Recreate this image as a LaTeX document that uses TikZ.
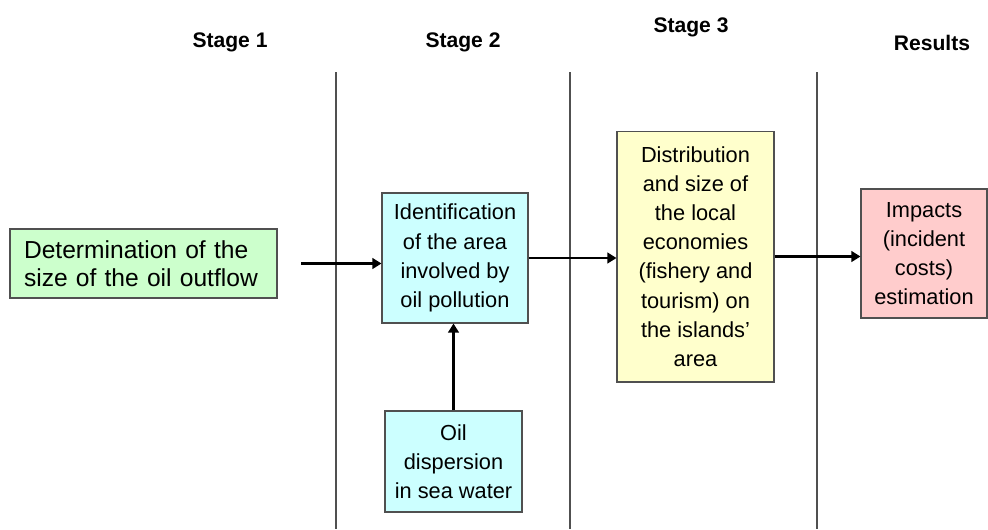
\documentclass[tikz,border=0pt]{standalone}
\usepackage{fontspec}
\setmainfont{Liberation Sans}
\usepackage{xcolor}
\usepackage{tikz}
\usetikzlibrary{positioning,calc,arrows.meta}
\definecolor{sizebg}{RGB}{204,255,204}
\definecolor{areabg}{RGB}{204,255,255}
\definecolor{economybg}{RGB}{255,255,204}
\definecolor{impactbg}{RGB}{255,204,204}
\definecolor{rulegray}{RGB}{80,80,80}

\begin{document}
\begin{tikzpicture}[x=0.02cm, y=-0.02cm,
    box/.style={rectangle, draw=rulegray, line width=0.6pt, align=center, inner sep=0pt,
        font=\fontsize{12.4}{16.6}\selectfont},
    stagehead/.style={font=\fontsize{12}{14}\selectfont\bfseries},
    arrow/.style={-{Triangle[length=1.8mm, width=2.1mm]}, line width=1.5pt},
    separator/.style={draw=rulegray, line width=0.6pt}
]
\useasboundingbox (0,0) rectangle (988,529);

% Stage headers
\node[stagehead] (stage1) at (230,42) {Stage 1};
\node[stagehead] (stage2) at (463,42) {Stage 2};
\node[stagehead] (stage3) at (691,27) {Stage 3};
\node[stagehead] (results) at (932,43) {Results};

% Separators
\foreach \sx in {336,570,817}
    \draw[separator] (\sx,72) -- (\sx,529);

% Components
\node[box, fill=sizebg, align=left, text width=4.78cm, inner xsep=0.28cm,
    minimum height=1.38cm, font=\fontsize{14}{16}\selectfont] (outflow) at (143.5,263.5)
    {Determination of the\\size of the oil outflow};
\node[box, fill=areabg, minimum width=2.92cm, minimum height=2.6cm] (area) at (455,258)
    {Identification\\of the area\\involved by\\oil pollution};
\node[box, fill=areabg, minimum width=2.74cm, minimum height=2.02cm] (dispersion) at (453.5,461.5)
    {Oil\\dispersion\\in sea water};
\node[box, fill=economybg, minimum width=3.14cm, minimum height=5.02cm] (economies) at (695.5,256.5)
    {Distribution\\and size of\\the local\\economies\\(fishery and\\tourism) on\\the islands'\\area};
\node[box, fill=impactbg, minimum width=2.52cm, minimum height=2.58cm] (impacts) at (924,253.5)
    {Impacts\\(incident\\costs)\\estimation};

% Arrows
\draw[arrow, shorten <=0.48cm] (outflow.east) -- (area.west |- outflow.east);
\draw[arrow] (area.east) -- (economies.west |- area.east);
\draw[arrow] (economies.east) -- (impacts.west |- economies.east);
\draw[arrow] (dispersion) -- (dispersion |- area.south);

\end{tikzpicture}
\end{document}
